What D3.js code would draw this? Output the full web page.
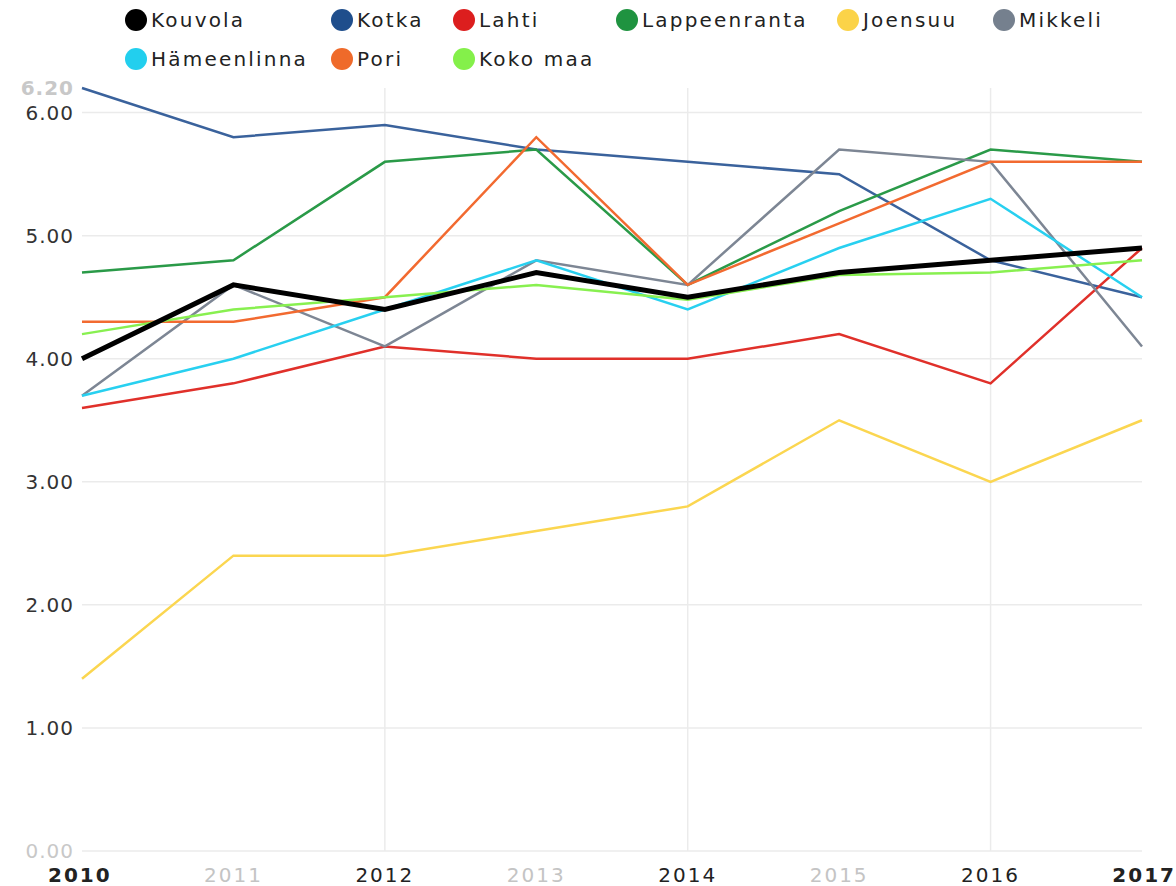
<!DOCTYPE html>
<html lang="fi">
<head>
<meta charset="UTF-8">
<title>Kaupungit</title>
<script src="https://cdn.jsdelivr.net/npm/d3@7"></script>
<style>
  body { margin: 0; background: #fff; }
  svg text { font-family: "DejaVu Sans", sans-serif; }
  .grid line { stroke: #ebebeb; stroke-width: 1.5; }
</style>
</head>
<body>
<script>
const years = [2010, 2011, 2012, 2013, 2014, 2015, 2016, 2017];
const yTicks = [0, 1, 2, 3, 4, 5, 6, 6.2];

const kouvola      = [4.0, 4.6, 4.4, 4.7, 4.5, 4.7, 4.8, 4.9];
const kotka        = [6.2, 5.8, 5.9, 5.7, 5.6, 5.5, 4.8, 4.5];
const lahti        = [3.6, 3.8, 4.1, 4.0, 4.0, 4.2, 3.8, 4.9];
const lappeenranta = [4.7, 4.8, 5.6, 5.7, 4.6, 5.2, 5.7, 5.6];
const joensuu      = [1.4, 2.4, 2.4, 2.6, 2.8, 3.5, 3.0, 3.5];
const mikkeli      = [3.7, 4.6, 4.1, 4.8, 4.6, 5.7, 5.6, 4.1];
const hameenlinna  = [3.7, 4.0, 4.4, 4.8, 4.4, 4.9, 5.3, 4.5];
const pori         = [4.3, 4.3, 4.5, 5.8, 4.6, 5.1, 5.6, 5.6];
const kokoMaa      = [4.2, 4.4, 4.5, 4.6, 4.48, 4.68, 4.7, 4.8];

const series = [
  { name: "Kouvola", values: kouvola, color: "#000000", legend: "#000000", width: 5 },
  { name: "Kotka", values: kotka, color: "#3a629c", legend: "#1f4e8c", width: 2.5 },
  { name: "Lahti", values: lahti, color: "#e0302a", legend: "#dc1e1e", width: 2.5 },
  { name: "Lappeenranta", values: lappeenranta, color: "#2a9a48", legend: "#1f9340", width: 2.5 },
  { name: "Joensuu", values: joensuu, color: "#fbd650", legend: "#fbd348", width: 2.5 },
  { name: "Mikkeli", values: mikkeli, color: "#7d8694", legend: "#75808e", width: 2.5 },
  { name: "Hämeenlinna", values: hameenlinna, color: "#28d0f0", legend: "#22cfee", width: 2.5 },
  { name: "Pori", values: pori, color: "#f26a30", legend: "#ef6a2a", width: 2.5 },
  { name: "Koko maa", values: kokoMaa, color: "#88f050", legend: "#84f04a", width: 2.5 }
];

const w = 1176, h = 886;
const svg = d3.select("body").append("svg").attr("width", w).attr("height", h);

const x = d3.scaleLinear().domain([2010, 2017]).range([82, 1142]);
const y = d3.scaleLinear().domain([0, 6.2]).range([851, 88]);

// grid
const grid = svg.append("g").attr("class", "grid");
grid.selectAll(".hg")
  .data(yTicks.filter(d => d < 6.2))
  .enter().append("line")
  .attr("x1", x(2010)).attr("x2", x(2017))
  .attr("y1", d => y(d)).attr("y2", d => y(d));
grid.selectAll(".vg")
  .data(years.filter(d => d % 2 === 0 && d > 2010))
  .enter().append("line")
  .attr("x1", d => x(d)).attr("x2", d => x(d))
  .attr("y1", y(6.2)).attr("y2", y(0));

// y labels
svg.append("g").selectAll("text")
  .data(yTicks)
  .enter().append("text")
  .attr("x", 74)
  .attr("y", d => y(d) + 7)
  .attr("text-anchor", "end")
  .style("font-size", "20px")
  .style("letter-spacing", "1px")
  .style("font-weight", d => d === 6.2 ? "bold" : "normal")
  .attr("fill", d => (d === 0 || d === 6.2) ? "#c8c8c8" : "#333")
  .text(d => d.toFixed(2));

// x labels
svg.append("g").selectAll("text")
  .data(years)
  .enter().append("text")
  .attr("x", (d, i) => i === 0 ? 48 : (i === years.length - 1 ? 1176 : x(d)))
  .attr("y", 882)
  .attr("text-anchor", (d, i) => i === 0 ? "start" : (i === years.length - 1 ? "end" : "middle"))
  .style("font-size", "20px")
  .style("letter-spacing", "2px")
  .style("font-weight", (d, i) => (i === 0 || i === years.length - 1) ? "bold" : "normal")
  .attr("fill", d => d % 2 === 1 && d !== 2017 ? "#c4c4c4" : "#222")
  .text(d => d);

// lines
const line = d3.line().x((d, i) => x(years[i])).y(d => y(d));
const drawOrder = series.slice(1).concat(series[0]);
svg.append("g").selectAll("path")
  .data(drawOrder)
  .enter().append("path")
  .attr("fill", "none")
  .attr("stroke", d => d.color)
  .attr("stroke-width", d => d.width)
  .attr("stroke-linejoin", "miter")
  .attr("d", d => line(d.values));

// legend: 6 per row in fixed columns
const perRow = 6;
const colX = [136, 342, 464, 627, 848, 1004];
const legend = svg.append("g");
const items = legend.selectAll("g")
  .data(series)
  .enter().append("g")
  .attr("transform", (d, i) =>
    "translate(" + colX[i % perRow] + "," + (20 + Math.floor(i / perRow) * 39) + ")");
items.append("circle")
  .attr("r", 11)
  .attr("fill", d => d.legend);
items.append("text")
  .attr("x", 15)
  .attr("y", 7)
  .style("font-size", "20px")
  .style("letter-spacing", "2.2px")
  .attr("fill", "#222")
  .text(d => d.name);
</script>
</body>
</html>
